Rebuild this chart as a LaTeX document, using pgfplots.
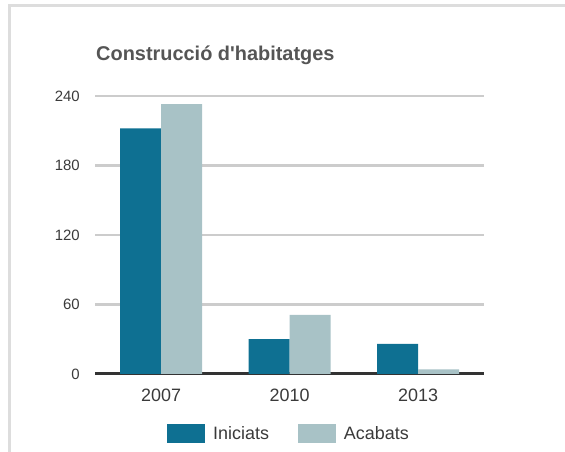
\documentclass[border=0pt]{standalone}
\usepackage{pgfplots}
\pgfplotsset{compat=1.18}
\usepackage{fontspec}
\setmainfont{Liberation Sans}
\newfontfamily\titlefont{Liberation Sans}
\definecolor{ini}{HTML}{0E7092}
\definecolor{aca}{HTML}{A8C2C6}
\definecolor{txt}{HTML}{3A3A3A}
\definecolor{ttl}{HTML}{555555}
\definecolor{grd}{HTML}{CCCCCC}
\definecolor{frm}{HTML}{DDDDDD}
\begin{document}
\begin{tikzpicture}[x=1bp,y=1bp]
\useasboundingbox (0,0) rectangle (565,452);
\draw[frm, line width=3bp] (9.5,0) -- (9.5,446.5) -- (565,446.5);
\node[anchor=base west, inner sep=0, text=ttl, font=\titlefont\fontsize{20}{23}\selectfont\bfseries] at (96,391) {Construcció d'habitatges};
\begin{axis}[
  at={(95bp,78bp)}, anchor=south west,
  scale only axis, width=389bp, height=278bp,
  xmin=-0.514, xmax=2.513, ymin=0, ymax=240,
  ybar=0pt, bar width=41bp,
  clip=false,
  axis lines*=left,
  y axis line style={draw=none},
  x axis line style={draw=black!80, line width=3bp, -},
  xtick={0,1,2}, xticklabels={2007,2010,2013},
  ytick={0,60,120,180,240},
  major tick length=0pt,
  ymajorgrids=true,
  grid style={grd, line width=2.5bp},
  /pgf/number format/assume math mode=true,
  xticklabel style={anchor=base, inner sep=0, yshift=-28bp, text=txt, font=\fontsize{18}{21}\selectfont},
  yticklabel style={anchor=east, inner sep=0, xshift=-15bp, text=txt, font=\fontsize{15}{18}\selectfont},
  legend columns=2,
  legend style={at={(0.185,-0.214)}, anchor=west, draw=none, fill=none, inner sep=0pt,
    nodes={inner sep=0pt, text=txt, font=\fontsize{18}{21}\selectfont},
    column sep=29bp,
    /tikz/every odd column/.append style={column sep=8bp}},
]
\addplot[fill=ini, draw=none, legend image code/.code={\fill[ini] (0bp,-9.5bp) rectangle (38bp,9.5bp);}] coordinates {(0,212) (1,30) (2,26)};
\addplot[fill=aca, draw=none, legend image code/.code={\fill[aca] (0bp,-9.5bp) rectangle (38bp,9.5bp);}] coordinates {(0,233) (1,51) (2,4)};
\legend{Iniciats,Acabats}
\end{axis}
\end{tikzpicture}
\end{document}
